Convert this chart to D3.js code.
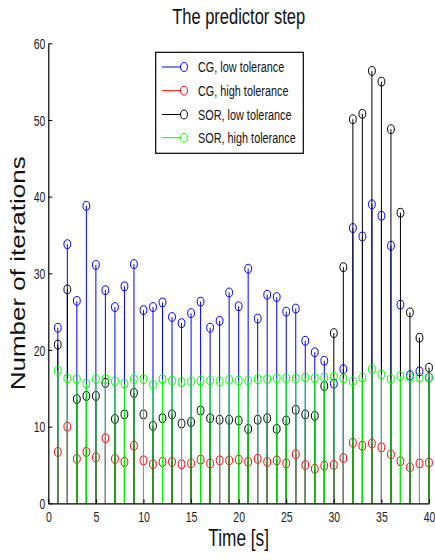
<!DOCTYPE html>
<html>
<head>
<meta charset="utf-8">
<script src="https://cdn.jsdelivr.net/npm/d3@7"></script>
<style>
  html, body { margin: 0; padding: 0; background: #fff; }
  svg { display: block; font-family: "Liberation Sans", Arial, sans-serif; }
</style>
</head>
<body>
<svg id="chart" width="435" height="560"></svg>
<script>
// Time instants of the predictor step [s]
const time = [1, 2, 3, 4, 5, 6, 7, 8, 9, 10, 11, 12, 13, 14, 15, 16, 17, 18, 19, 20,
              21, 22, 23, 24, 25, 26, 27, 28, 29, 30, 31, 32, 33, 34, 35, 36, 37, 38, 39, 40];

// Iteration counts per solver / tolerance
const cgLow   = [22.9, 33.8, 26.4, 38.8, 31.1, 27.8, 25.6, 28.3, 31.2, 25.2, 25.6, 26.2, 24.3, 23.5, 24.8, 26.3, 22.9, 23.8, 27.5, 25.7,
                 30.6, 24.1, 27.2, 26.9, 25.0, 25.4, 21.2, 19.7, 18.6, 15.6, 17.5, 35.9, 34.8, 39.0, 37.5, 33.6, 25.9, 16.7, 17.2, 16.4];
const cgHigh  = [6.7, 10.0, 5.8, 6.7, 6.0, 8.5, 5.8, 5.4, 7.5, 5.6, 5.1, 5.4, 5.4, 5.1, 5.2, 5.7, 5.2, 5.6, 5.6, 5.7,
                 5.4, 5.8, 5.4, 5.6, 5.2, 6.4, 5.0, 4.5, 4.9, 5.0, 5.9, 7.9, 7.5, 7.8, 7.3, 6.4, 5.5, 4.7, 5.2, 5.3];
const sorLow  = [20.7, 27.9, 13.6, 14.0, 14.0, 15.7, 11.0, 11.6, 14.4, 11.6, 10.1, 11.1, 11.6, 10.4, 10.6, 12.1, 11.1, 10.9, 10.9, 10.8,
                 9.7, 10.9, 11.1, 9.7, 10.8, 12.2, 11.6, 11.4, 15.3, 22.2, 30.8, 50.1, 50.8, 56.4, 55.0, 48.8, 37.9, 24.9, 21.6, 17.7];
const sorHigh = [17.3, 16.3, 16.2, 15.6, 16.2, 16.2, 15.9, 15.6, 16.2, 16.2, 15.5, 16.2, 16.0, 15.8, 15.9, 16.0, 16.0, 15.9, 16.1, 16.0,
                 16.0, 16.2, 16.2, 16.3, 16.3, 16.3, 16.4, 16.3, 16.4, 16.5, 16.3, 15.9, 16.4, 17.5, 16.8, 16.2, 16.6, 16.4, 16.4, 16.4];

const seriesNames  = ["CG, low tolerance", "CG, high tolerance", "SOR, low tolerance", "SOR, high tolerance"];
const seriesValues = [cgLow, cgHigh, sorLow, sorHigh];
const seriesColors = ["#0000ff", "#ff0000", "#000000", "#00ff00"];

const xTicks = [0, 5, 10, 15, 20, 25, 30, 35, 40];
const yTicks = [0, 10, 20, 30, 40, 50, 60];

// Layout
const plot = { left: 48.3, right: 429, top: 43.3, bottom: 503.3 };
const squeeze = 0.75; // narrow rendering of horizontal text

const svg = d3.select("#chart");

const x = d3.scaleLinear().domain([0, 40]).range([plot.left, plot.right]);
const y = d3.scaleLinear().domain([0, 60]).range([plot.bottom, plot.top]);

// Stems and open markers, one series after another
const marks = svg.append("g");
seriesValues.forEach((vals, si) => {
  const g = marks.append("g");
  const pts = time.map((t, i) => ({ t, v: vals[i] }));
  g.selectAll("line").data(pts).join("line")
    .attr("x1", d => x(d.t)).attr("x2", d => x(d.t))
    .attr("y1", y(0)).attr("y2", d => y(d.v))
    .attr("stroke", seriesColors[si]).attr("stroke-width", 1);
  g.selectAll("ellipse").data(pts).join("ellipse")
    .attr("cx", d => x(d.t)).attr("cy", d => y(d.v))
    .attr("rx", 3.4).attr("ry", 4.4)
    .attr("fill", "none")
    .attr("stroke", seriesColors[si]).attr("stroke-width", 1);
});

// Axes (ticks point inward)
const xAxis = d3.axisBottom(x).tickValues(xTicks).tickSizeInner(-4).tickSizeOuter(0).tickPadding(0).tickFormat(d3.format("d"));
const yAxis = d3.axisLeft(y).tickValues(yTicks).tickSizeInner(-4).tickSizeOuter(0).tickPadding(0).tickFormat(d3.format("d"));

const gx = svg.append("g").attr("transform", `translate(0,${plot.bottom})`).call(xAxis);
const gy = svg.append("g").attr("transform", `translate(${plot.left},0)`).call(yAxis);

[gx, gy].forEach(g => {
  g.select(".domain").attr("stroke", "#000").attr("stroke-width", 1.2);
  g.selectAll(".tick line").attr("stroke", "#000");
  g.selectAll(".tick text").attr("fill", "#222").attr("font-size", 14)
    .attr("font-family", "Liberation Sans, Arial, sans-serif");
});

gx.selectAll(".tick text")
  .attr("y", 0).attr("dy", 0)
  .attr("transform", `translate(0,19) scale(${squeeze},1)`);

gy.selectAll(".tick text")
  .attr("x", 0).attr("dy", "0.36em")
  .attr("transform", `translate(-3,0) scale(${squeeze},1)`);

// Title
svg.append("text")
  .attr("transform", `translate(${(plot.left + plot.right) / 2},23.5) scale(${squeeze},1)`)
  .attr("text-anchor", "middle").attr("font-size", 22).attr("fill", "#111")
  .text("The predictor step");

// Axis labels
svg.append("text")
  .attr("transform", `translate(${(plot.left + plot.right) / 2},546) scale(${squeeze},1)`)
  .attr("text-anchor", "middle").attr("font-size", 23).attr("fill", "#111")
  .text("Time [s]");

svg.append("text")
  .attr("transform", `translate(25,${(plot.top + plot.bottom) / 2}) scale(0.8,1) rotate(-90)`)
  .attr("text-anchor", "middle").attr("font-size", 26).attr("fill", "#111")
  .text("Number of iterations");

// Legend
const legend = svg.append("g");
legend.append("rect")
  .attr("x", 155.7).attr("y", 52.3).attr("width", 147.6).attr("height", 101)
  .attr("fill", "#fff").attr("stroke", "#000").attr("stroke-width", 1.2);

const legendRows = [67, 90.7, 114.5, 137.7];
seriesNames.forEach((name, i) => {
  const row = legend.append("g").attr("transform", `translate(0,${legendRows[i]})`);
  row.append("line").attr("x1", 162).attr("x2", 184).attr("y1", 0).attr("y2", 0)
    .attr("stroke", seriesColors[i]).attr("stroke-width", 1);
  row.append("ellipse").attr("cx", 184).attr("cy", 0).attr("rx", 3.4).attr("ry", 4.4)
    .attr("fill", "#fff").attr("stroke", seriesColors[i]).attr("stroke-width", 1);
  row.append("text")
    .attr("transform", `translate(198,0) scale(${squeeze},1)`)
    .attr("dy", "0.36em").attr("font-size", 14.5).attr("fill", "#111")
    .text(name);
});
</script>
</body>
</html>
